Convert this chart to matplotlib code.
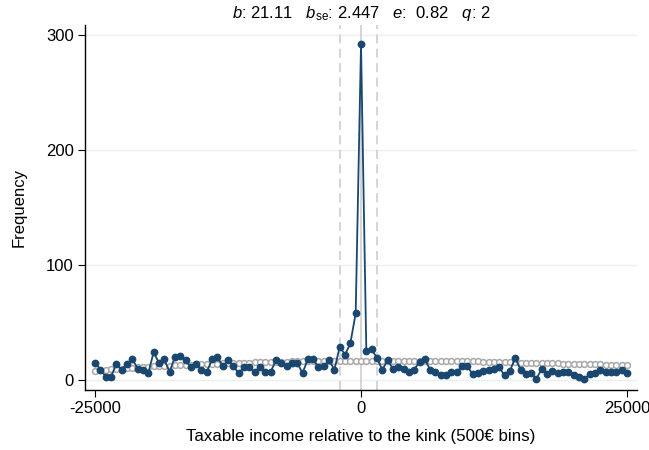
import numpy as np
import matplotlib
matplotlib.use("Agg")
import matplotlib.pyplot as plt

plt.rcParams['font.family'] = ['Liberation Sans', 'DejaVu Sans']
plt.rcParams['mathtext.fontset'] = 'custom'
plt.rcParams['mathtext.rm'] = 'Liberation Sans'
plt.rcParams['mathtext.it'] = 'Liberation Sans:italic'
plt.rcParams['axes.unicode_minus'] = False

# bins of 500 relative to the kink
bins = np.arange(-25000, 25001, 500)

observed = [15, 9, 3, 3, 14, 9, 14, 18, 10, 9,
            6, 24, 15, 18, 7, 20, 21, 17, 11, 14,
            9, 7, 18, 20, 12, 17, 12, 6, 11, 11,
            7, 11, 7, 7, 17, 15, 12, 15, 15, 6,
            18, 18, 11, 12, 17, 9, 29, 22, 32, 58,
            292, 25, 27, 19, 9, 17, 10, 11, 10, 7,
            9, 16, 18, 9, 7, 4, 4, 7, 7, 12,
            12, 5, 6, 8, 9, 10, 11, 4, 8, 19,
            9, 5, 6, 1, 10, 5, 8, 6, 7, 7,
            4, 3, 1, 5, 6, 9, 7, 7, 7, 9,
            6]

counterfactual = [8.1, 8.5, 8.9, 9.3, 9.6, 10.0, 10.3, 10.6, 10.9, 11.2,
                  11.5, 11.8, 12.1, 12.3, 12.6, 12.8, 13.0, 13.2, 13.4, 13.6,
                  13.8, 14.0, 14.2, 14.3, 14.5, 14.7, 14.8, 15.0, 15.1, 15.2,
                  15.4, 15.5, 15.6, 15.7, 15.8, 15.9, 16.0, 16.1, 16.2, 16.3,
                  16.3, 16.4, 16.5, 16.5, 16.6, 16.6, 16.7, 16.7, 16.7, 16.8,
                  16.8, 16.8, 16.8, 16.8, 16.8, 16.8, 16.8, 16.8, 16.8, 16.8,
                  16.8, 16.8, 16.7, 16.7, 16.7, 16.6, 16.6, 16.5, 16.5, 16.4,
                  16.3, 16.2, 16.1, 16.0, 15.9, 15.8, 15.7, 15.6, 15.4, 15.3,
                  15.2, 15.1, 15.0, 14.9, 14.8, 14.7, 14.6, 14.4, 14.3, 14.1,
                  14.0, 13.9, 13.8, 13.7, 13.6, 13.5, 13.4, 13.3, 13.2, 13.1,
                  13.0]

kink = 0
window = (-2000, 1500)
title = r"$b$: 21.11   $b_{\mathrm{se}}$: 2.447   $e$:  0.82   $q$: 2"

navy = "#1a476f"
grey = "#a8a8a8"

fig = plt.figure(figsize=(6.49, 4.5), dpi=100)
ax = fig.add_axes([0.131, 0.1333, 0.8505, 0.811])

for y in [0, 100, 200, 300]:
    ax.axhline(y, color="#eaf0f2", lw=1.0, zorder=0)

ax.axvline(kink, color="#d2d2d2", lw=1.3, zorder=1)
for xv in window:
    ax.axvline(xv, color="#d2d2d2", lw=1.3, ls=(0, (5, 3)), zorder=1)

ax.plot(bins, counterfactual, ls="none", marker="o", ms=4.2,
        mfc="white", mec=grey, mew=1.1, zorder=2)
ax.plot(bins, observed, color=navy, lw=1.3, marker="o", ms=4.6,
        mfc=navy, mec=navy, zorder=3)

ax.set_xlim(-25950, 25950)
ax.set_ylim(-8.7, 308.7)
ax.set_xticks([-25000, 0, 25000])
ax.set_yticks([0, 100, 200, 300])
ax.tick_params(labelsize=12, length=5, width=0.8, pad=3)

for s in ["top", "right"]:
    ax.spines[s].set_visible(False)
for s in ["left", "bottom"]:
    ax.spines[s].set_linewidth(1.0)

ax.set_xlabel("Taxable income relative to the kink (500€ bins)", fontsize=12.2, labelpad=9)
ax.set_ylabel("Frequency", fontsize=12, labelpad=14)
ax.set_title(title, fontsize=12, pad=5)

fig.savefig("out.png", dpi=100)
